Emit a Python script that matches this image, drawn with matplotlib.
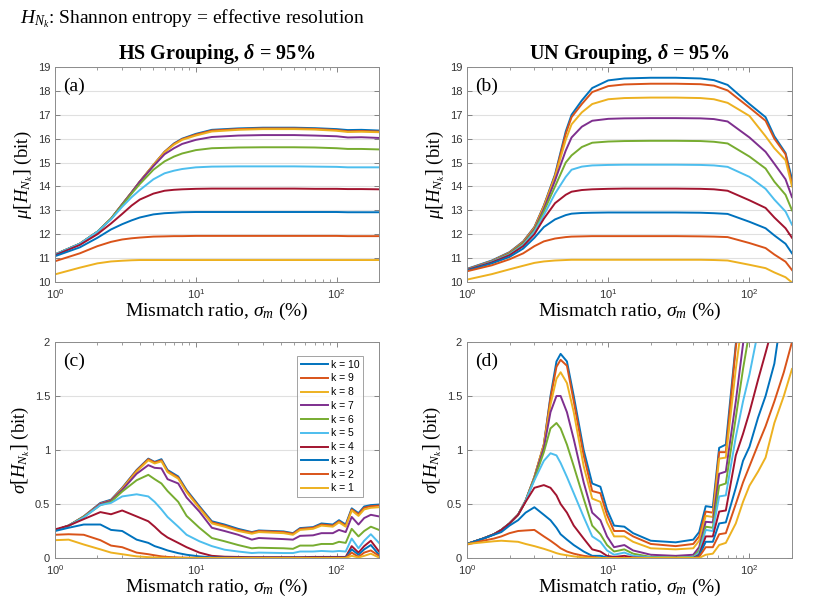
import matplotlib
matplotlib.use('Agg')
import matplotlib.pyplot as plt
from matplotlib.ticker import LogLocator, FixedLocator, FixedFormatter

# ---------------- data ----------------
ks = [10, 9, 8, 7, 6, 5, 4, 3, 2, 1]
colors = ['#0072BD', '#D95319', '#EDB120', '#7E2F8E', '#77AC30',
          '#4DBEEE', '#A2142F', '#0072BD', '#D95319', '#EDB120']

# (a) HS grouping, mean entropy
xa = [1, 1.5, 2, 2.5, 3, 3.5, 4, 5, 6, 7, 8, 10, 13, 20, 30, 50, 70, 100, 120, 150, 200]
mu_hs = {
    10: [11.15, 11.6, 12.1, 12.65, 13.25, 13.75, 14.2, 14.9, 15.45, 15.8, 16.0, 16.2, 16.37, 16.43, 16.46, 16.46, 16.44, 16.4, 16.36, 16.37, 16.34],
    9: [11.15, 11.6, 12.1, 12.65, 13.25, 13.75, 14.2, 14.9, 15.45, 15.78, 15.98, 16.17, 16.34, 16.4, 16.43, 16.43, 16.41, 16.36, 16.31, 16.32, 16.3],
    8: [11.15, 11.6, 12.1, 12.65, 13.25, 13.75, 14.2, 14.9, 15.43, 15.75, 15.95, 16.13, 16.3, 16.37, 16.4, 16.4, 16.38, 16.33, 16.28, 16.29, 16.27],
    7: [11.15, 11.6, 12.1, 12.65, 13.25, 13.75, 14.2, 14.85, 15.35, 15.6, 15.78, 15.95, 16.07, 16.13, 16.15, 16.15, 16.13, 16.1, 16.05, 16.06, 16.03],
    6: [11.15, 11.6, 12.1, 12.65, 13.22, 13.7, 14.1, 14.7, 15.05, 15.25, 15.38, 15.52, 15.6, 15.63, 15.64, 15.64, 15.63, 15.6, 15.57, 15.57, 15.55],
    5: [11.15, 11.6, 12.1, 12.62, 13.15, 13.55, 13.85, 14.3, 14.55, 14.66, 14.73, 14.8, 14.83, 14.84, 14.84, 14.84, 14.83, 14.82, 14.8, 14.8, 14.8],
    4: [11.12, 11.55, 12.0, 12.45, 12.85, 13.2, 13.45, 13.7, 13.82, 13.86, 13.88, 13.9, 13.91, 13.91, 13.91, 13.91, 13.9, 13.9, 13.89, 13.89, 13.88],
    3: [11.08, 11.45, 11.85, 12.2, 12.42, 12.58, 12.7, 12.83, 12.88, 12.9, 12.92, 12.93, 12.93, 12.93, 12.93, 12.93, 12.93, 12.93, 12.92, 12.92, 12.92],
    2: [10.87, 11.2, 11.5, 11.68, 11.78, 11.83, 11.86, 11.9, 11.91, 11.92, 11.92, 11.93, 11.93, 11.93, 11.93, 11.93, 11.93, 11.93, 11.92, 11.92, 11.92],
    1: [10.32, 10.6, 10.78, 10.86, 10.89, 10.91, 10.92, 10.92, 10.92, 10.92, 10.92, 10.92, 10.92, 10.92, 10.92, 10.92, 10.92, 10.92, 10.92, 10.92, 10.92],
}

# (b) UN grouping, mean entropy
xb = [1, 1.5, 2, 2.5, 3, 3.5, 4.2, 5, 5.5, 6.5, 7.7, 10, 13, 20, 30, 45, 56, 70, 100, 130, 150, 180, 200]
mu_un = {
    10: [10.55, 10.9, 11.25, 11.7, 12.3, 13.2, 14.5, 16.3, 17.0, 17.6, 18.12, 18.44, 18.52, 18.55, 18.55, 18.52, 18.45, 18.25, 17.45, 16.9, 16.1, 15.4, 14.3],
    9: [10.53, 10.88, 11.23, 11.68, 12.28, 13.18, 14.45, 16.2, 16.9, 17.45, 17.95, 18.2, 18.27, 18.3, 18.3, 18.28, 18.22, 18.02, 17.3, 16.75, 16.0, 15.35, 14.1],
    8: [10.52, 10.87, 11.22, 11.66, 12.25, 13.15, 14.4, 15.95, 16.6, 17.1, 17.45, 17.65, 17.7, 17.72, 17.72, 17.7, 17.65, 17.5, 16.95, 16.1, 15.6, 15.1, 14.0],
    7: [10.51, 10.86, 11.2, 11.63, 12.2, 13.05, 14.25, 15.5, 16.05, 16.5, 16.75, 16.83, 16.85, 16.86, 16.86, 16.85, 16.82, 16.72, 16.05, 15.45, 14.95, 14.3, 13.55],
    6: [10.5, 10.85, 11.18, 11.6, 12.15, 12.95, 14.0, 15.0, 15.3, 15.65, 15.83, 15.88, 15.9, 15.91, 15.91, 15.9, 15.87, 15.8, 15.25, 14.75, 14.2, 13.65, 13.0],
    5: [10.5, 10.84, 11.15, 11.55, 12.1, 12.8, 13.7, 14.4, 14.7, 14.83, 14.88, 14.9, 14.91, 14.91, 14.91, 14.9, 14.88, 14.82, 14.4, 13.9, 13.45, 12.95, 12.4],
    4: [10.5, 10.82, 11.12, 11.5, 12.0, 12.65, 13.3, 13.65, 13.78, 13.85, 13.88, 13.9, 13.91, 13.91, 13.91, 13.9, 13.88, 13.82, 13.42, 13.1, 12.7, 12.25, 11.85],
    3: [10.48, 10.78, 11.05, 11.4, 11.85, 12.3, 12.62, 12.8, 12.86, 12.89, 12.9, 12.91, 12.91, 12.91, 12.91, 12.9, 12.88, 12.85, 12.52, 12.25, 11.95, 11.6, 11.2],
    2: [10.45, 10.7, 10.95, 11.2, 11.5, 11.7, 11.82, 11.88, 11.9, 11.91, 11.92, 11.92, 11.92, 11.92, 11.92, 11.91, 11.9, 11.88, 11.63, 11.42, 11.15, 10.85, 10.5],
    1: [10.1, 10.33, 10.53, 10.68, 10.8, 10.86, 10.9, 10.92, 10.93, 10.93, 10.93, 10.93, 10.93, 10.93, 10.93, 10.93, 10.92, 10.9, 10.72, 10.58, 10.4, 10.2, 9.98],
}

# (c) HS grouping, std of entropy
xc = [1, 1.25, 1.6, 2.1, 2.5, 3, 3.8, 4.6, 5.1, 5.7, 6.3, 7.5, 8.6, 10.6, 13, 16,
      20, 25, 28, 42, 49, 55, 68, 78, 94, 104, 116, 128, 143, 157, 175, 200]
sd_hs = {
    10: [0.255, 0.30, 0.385, 0.51, 0.54, 0.65, 0.815, 0.92, 0.89, 0.915, 0.815, 0.755, 0.63, 0.48, 0.34, 0.31,
         0.27, 0.24, 0.255, 0.246, 0.23, 0.277, 0.286, 0.32, 0.31, 0.35, 0.31, 0.46, 0.415, 0.477, 0.49, 0.495],
    9: [0.255, 0.30, 0.385, 0.505, 0.535, 0.645, 0.81, 0.915, 0.885, 0.905, 0.805, 0.745, 0.62, 0.47, 0.33, 0.30,
        0.26, 0.235, 0.25, 0.24, 0.225, 0.27, 0.28, 0.31, 0.30, 0.34, 0.30, 0.45, 0.405, 0.465, 0.48, 0.485],
    8: [0.255, 0.30, 0.38, 0.50, 0.53, 0.64, 0.80, 0.905, 0.875, 0.895, 0.795, 0.735, 0.61, 0.46, 0.32, 0.29,
        0.25, 0.225, 0.24, 0.23, 0.215, 0.26, 0.27, 0.30, 0.29, 0.33, 0.29, 0.44, 0.39, 0.45, 0.465, 0.47],
    7: [0.255, 0.30, 0.38, 0.50, 0.53, 0.63, 0.78, 0.86, 0.835, 0.83, 0.73, 0.69, 0.56, 0.43, 0.28, 0.25,
        0.215, 0.17, 0.185, 0.175, 0.17, 0.205, 0.21, 0.23, 0.23, 0.26, 0.24, 0.38, 0.31, 0.37, 0.40, 0.385],
    6: [0.255, 0.30, 0.38, 0.49, 0.52, 0.615, 0.72, 0.77, 0.73, 0.69, 0.62, 0.52, 0.39, 0.28, 0.185, 0.155,
        0.12, 0.09, 0.095, 0.09, 0.085, 0.115, 0.115, 0.13, 0.13, 0.15, 0.14, 0.27, 0.2, 0.25, 0.29, 0.26],
    5: [0.255, 0.30, 0.375, 0.49, 0.51, 0.57, 0.59, 0.57, 0.52, 0.45, 0.38, 0.29, 0.215, 0.155, 0.11, 0.077,
        0.06, 0.046, 0.05, 0.046, 0.046, 0.06, 0.06, 0.065, 0.06, 0.065, 0.06, 0.18, 0.09, 0.16, 0.22, 0.14],
    4: [0.265, 0.30, 0.36, 0.425, 0.405, 0.44, 0.385, 0.34, 0.29, 0.23, 0.19, 0.14, 0.1, 0.05, 0.02, 0.012,
        0.01, 0.008, 0.008, 0.008, 0.008, 0.008, 0.01, 0.01, 0.01, 0.01, 0.01, 0.11, 0.05, 0.11, 0.16, 0.06],
    3: [0.25, 0.28, 0.31, 0.31, 0.26, 0.25, 0.17, 0.14, 0.11, 0.09, 0.07, 0.045, 0.03, 0.015, 0.006, 0.004,
        0.003, 0.003, 0.003, 0.003, 0.003, 0.003, 0.003, 0.003, 0.003, 0.003, 0.003, 0.08, 0.03, 0.08, 0.12, 0.03],
    2: [0.215, 0.22, 0.215, 0.165, 0.115, 0.1, 0.05, 0.035, 0.025, 0.015, 0.01, 0.005, 0.003, 0.002, 0.001, 0.001,
        0.001, 0.001, 0.001, 0.001, 0.001, 0.001, 0.001, 0.001, 0.001, 0.001, 0.001, 0.05, 0.01, 0.05, 0.07, 0.02],
    1: [0.165, 0.17, 0.125, 0.08, 0.05, 0.035, 0.015, 0.008, 0.005, 0.003, 0.002, 0.001, 0.0, 0.0, 0.0, 0.0,
        0.0, 0.0, 0.0, 0.0, 0.0, 0.0, 0.0, 0.0, 0.0, 0.0, 0.0, 0.02, 0.005, 0.02, 0.04, 0.005],
}

# (d) UN grouping, std of entropy
xd = [1, 1.3, 1.55, 1.75, 2.0, 2.3, 2.6, 3.0, 3.5, 3.9, 4.3, 4.6, 5.1, 5.7, 6.7, 7.7, 8.8, 9.8, 11, 13,
      15, 20, 30, 40, 44, 49, 55, 61, 68, 80, 90, 100, 115, 130, 150, 175, 200]
sd_un = {
    10: [0.13, 0.18, 0.22, 0.26, 0.32, 0.4, 0.53, 0.75, 1.05, 1.5, 1.82, 1.89, 1.82, 1.5, 1.0, 0.69, 0.66, 0.45, 0.3, 0.29,
         0.23, 0.16, 0.145, 0.17, 0.24, 0.48, 0.47, 1.02, 1.05, 1.98, 2.5, 3.0, 3.4, 3.8, 4.2, 4.6, 5.0],
    9: [0.13, 0.18, 0.22, 0.26, 0.32, 0.4, 0.53, 0.75, 1.05, 1.48, 1.77, 1.835, 1.78, 1.45, 0.95, 0.62, 0.6, 0.4, 0.25, 0.25,
        0.2, 0.13, 0.11, 0.13, 0.2, 0.43, 0.42, 0.98, 0.98, 1.95, 2.45, 2.9, 3.3, 3.7, 4.1, 4.5, 4.9],
    8: [0.13, 0.18, 0.22, 0.26, 0.32, 0.4, 0.53, 0.75, 1.05, 1.42, 1.66, 1.72, 1.62, 1.35, 0.85, 0.55, 0.52, 0.33, 0.2, 0.2,
        0.15, 0.09, 0.08, 0.09, 0.16, 0.39, 0.38, 0.92, 0.93, 1.75, 2.25, 2.7, 3.1, 3.5, 3.9, 4.3, 4.7],
    7: [0.13, 0.18, 0.22, 0.26, 0.32, 0.4, 0.53, 0.74, 1.02, 1.35, 1.5, 1.5, 1.35, 1.1, 0.7, 0.42, 0.35, 0.2, 0.1, 0.12,
        0.07, 0.03, 0.02, 0.03, 0.1, 0.335, 0.33, 0.78, 0.8, 1.45, 1.98, 2.4, 2.8, 3.2, 3.6, 4.0, 4.4],
    6: [0.13, 0.18, 0.22, 0.26, 0.32, 0.4, 0.53, 0.73, 0.98, 1.2, 1.25, 1.2, 1.05, 0.85, 0.55, 0.3, 0.22, 0.12, 0.06, 0.08,
        0.04, 0.01, 0.005, 0.01, 0.07, 0.29, 0.28, 0.67, 0.69, 1.3, 1.75, 2.1, 2.5, 2.9, 3.3, 3.7, 4.1],
    5: [0.13, 0.18, 0.22, 0.26, 0.32, 0.4, 0.53, 0.72, 0.9, 0.97, 0.95, 0.88, 0.75, 0.6, 0.38, 0.2, 0.15, 0.07, 0.03, 0.05,
        0.02, 0.005, 0.0, 0.005, 0.05, 0.26, 0.25, 0.57, 0.58, 1.12, 1.45, 1.7, 2.1, 2.5, 2.9, 3.3, 3.7],
    4: [0.13, 0.18, 0.22, 0.26, 0.32, 0.4, 0.52, 0.65, 0.675, 0.65, 0.58, 0.5, 0.42, 0.3, 0.18, 0.08, 0.06, 0.02, 0.01, 0.02,
        0.005, 0.0, 0.0, 0.0, 0.03, 0.2, 0.2, 0.43, 0.44, 0.95, 1.15, 1.35, 1.65, 1.9, 2.2, 2.6, 3.0],
    3: [0.13, 0.18, 0.215, 0.24, 0.3, 0.35, 0.42, 0.47, 0.4, 0.35, 0.28, 0.22, 0.17, 0.12, 0.06, 0.02, 0.02, 0.005, 0.0, 0.0,
        0.0, 0.0, 0.0, 0.0, 0.02, 0.15, 0.15, 0.32, 0.33, 0.65, 0.9, 1.03, 1.3, 1.5, 1.8, 2.4, 2.9],
    2: [0.125, 0.16, 0.18, 0.2, 0.23, 0.25, 0.255, 0.26, 0.2, 0.16, 0.12, 0.09, 0.06, 0.04, 0.02, 0.01, 0.0, 0.0, 0.0, 0.0,
        0.0, 0.0, 0.0, 0.0, 0.01, 0.1, 0.1, 0.22, 0.23, 0.5, 0.7, 0.85, 1.05, 1.22, 1.45, 1.72, 2.0],
    1: [0.13, 0.145, 0.155, 0.16, 0.155, 0.15, 0.13, 0.11, 0.085, 0.065, 0.045, 0.035, 0.025, 0.015, 0.005, 0.0, 0.0, 0.0, 0.0, 0.0,
        0.0, 0.0, 0.0, 0.0, 0.0, 0.03, 0.04, 0.12, 0.14, 0.32, 0.52, 0.67, 0.8, 0.93, 1.25, 1.5, 1.75],
}

# ---------------- plotting ----------------
plt.rcParams['font.family'] = ['Liberation Sans', 'DejaVu Sans']
plt.rcParams['mathtext.fontset'] = 'custom'
plt.rcParams['mathtext.rm'] = 'Liberation Serif'
plt.rcParams['mathtext.it'] = 'Liberation Serif:italic'
plt.rcParams['mathtext.bf'] = 'Liberation Serif:bold'
plt.rcParams['mathtext.bfit'] = 'Liberation Serif:bold:italic'

serif = 'Liberation Serif'
W, H = 830, 612
fig = plt.figure(figsize=(W / 100, H / 100), dpi=100)


def add_axes(left, right, top, bottom):
    return fig.add_axes([left / W, 1 - bottom / H, (right - left) / W, (bottom - top) / H])


ax_a = add_axes(55, 379, 67, 282)
ax_b = add_axes(467, 792, 67, 282)
ax_c = add_axes(55, 379, 342, 558)
ax_d = add_axes(467, 792, 342, 558)

panels = [
    (ax_a, xa, mu_hs, '(a)', r'$\mu\left[H_{N_k}\right]$ (bit)'),
    (ax_b, xb, mu_un, '(b)', r'$\mu\left[H_{N_k}\right]$ (bit)'),
    (ax_c, xc, sd_hs, '(c)', r'$\sigma\left[H_{N_k}\right]$ (bit)'),
    (ax_d, xd, sd_un, '(d)', r'$\sigma\left[H_{N_k}\right]$ (bit)'),
]

for ax, x, data, tag, ylab in panels:
    for k, c in zip(ks, colors):
        ax.plot(x, data[k], color=c, lw=1.4, label='k = %d' % k)
    ax.set_xscale('log')
    ax.set_xlim(1, 200)
    ax.xaxis.set_major_locator(LogLocator(base=10, numticks=5))
    ax.xaxis.set_minor_locator(LogLocator(base=10, subs=range(2, 10), numticks=20))
    ax.tick_params(which='both', direction='in', top=True, right=True, colors='0.45',
                   labelcolor='0.2', labelsize=8)
    ax.tick_params(which='major', length=3.5, width=0.6)
    ax.tick_params(which='minor', length=2, width=0.5)
    ax.grid(axis='y', color='0.88', lw=0.8)
    ax.set_axisbelow(True)
    for sp in ax.spines.values():
        sp.set_color('0.55')
        sp.set_linewidth(0.7)
    ax.set_xlabel(r'Mismatch ratio, $\sigma_m$ (%)', family=serif, fontsize=14, labelpad=0)
    ax.set_ylabel(ylab, family=serif, fontsize=13.5, labelpad=2)
    ax.text(0.025, 0.91, tag, transform=ax.transAxes, family=serif, fontsize=14, va='center')

for ax in (ax_a, ax_b):
    ax.set_ylim(10, 19)
    ax.set_yticks(range(10, 20))

for ax in (ax_c, ax_d):
    ax.set_ylim(0, 2)
    ax.yaxis.set_major_locator(FixedLocator([0, 0.5, 1, 1.5, 2]))
    ax.yaxis.set_major_formatter(FixedFormatter(['0', '0.5', '1', '1.5', '2']))

ax_a.set_title(r'HS Grouping, $\mathbfit{\delta}$ = 95%', family=serif, fontweight='bold',
               fontsize=14.5, pad=6)
ax_b.set_title(r'UN Grouping, $\mathbfit{\delta}$ = 95%', family=serif, fontweight='bold',
               fontsize=14.5, pad=6)

fig.text(20 / W, 1 - 19 / H, r'$H_{N_k}$: Shannon entropy = effective resolution',
         family=serif, fontsize=14, va='center', ha='left')

leg = ax_c.legend(loc='upper right', bbox_to_anchor=(0.952, 0.935), fontsize=7.5,
                  frameon=True, fancybox=False, handlelength=2.6, handletextpad=0.3,
                  labelspacing=0.36, borderpad=0.35, borderaxespad=0)
leg.get_frame().set_edgecolor('0.55')
leg.get_frame().set_linewidth(0.7)

fig.savefig('out.png', dpi=100)
